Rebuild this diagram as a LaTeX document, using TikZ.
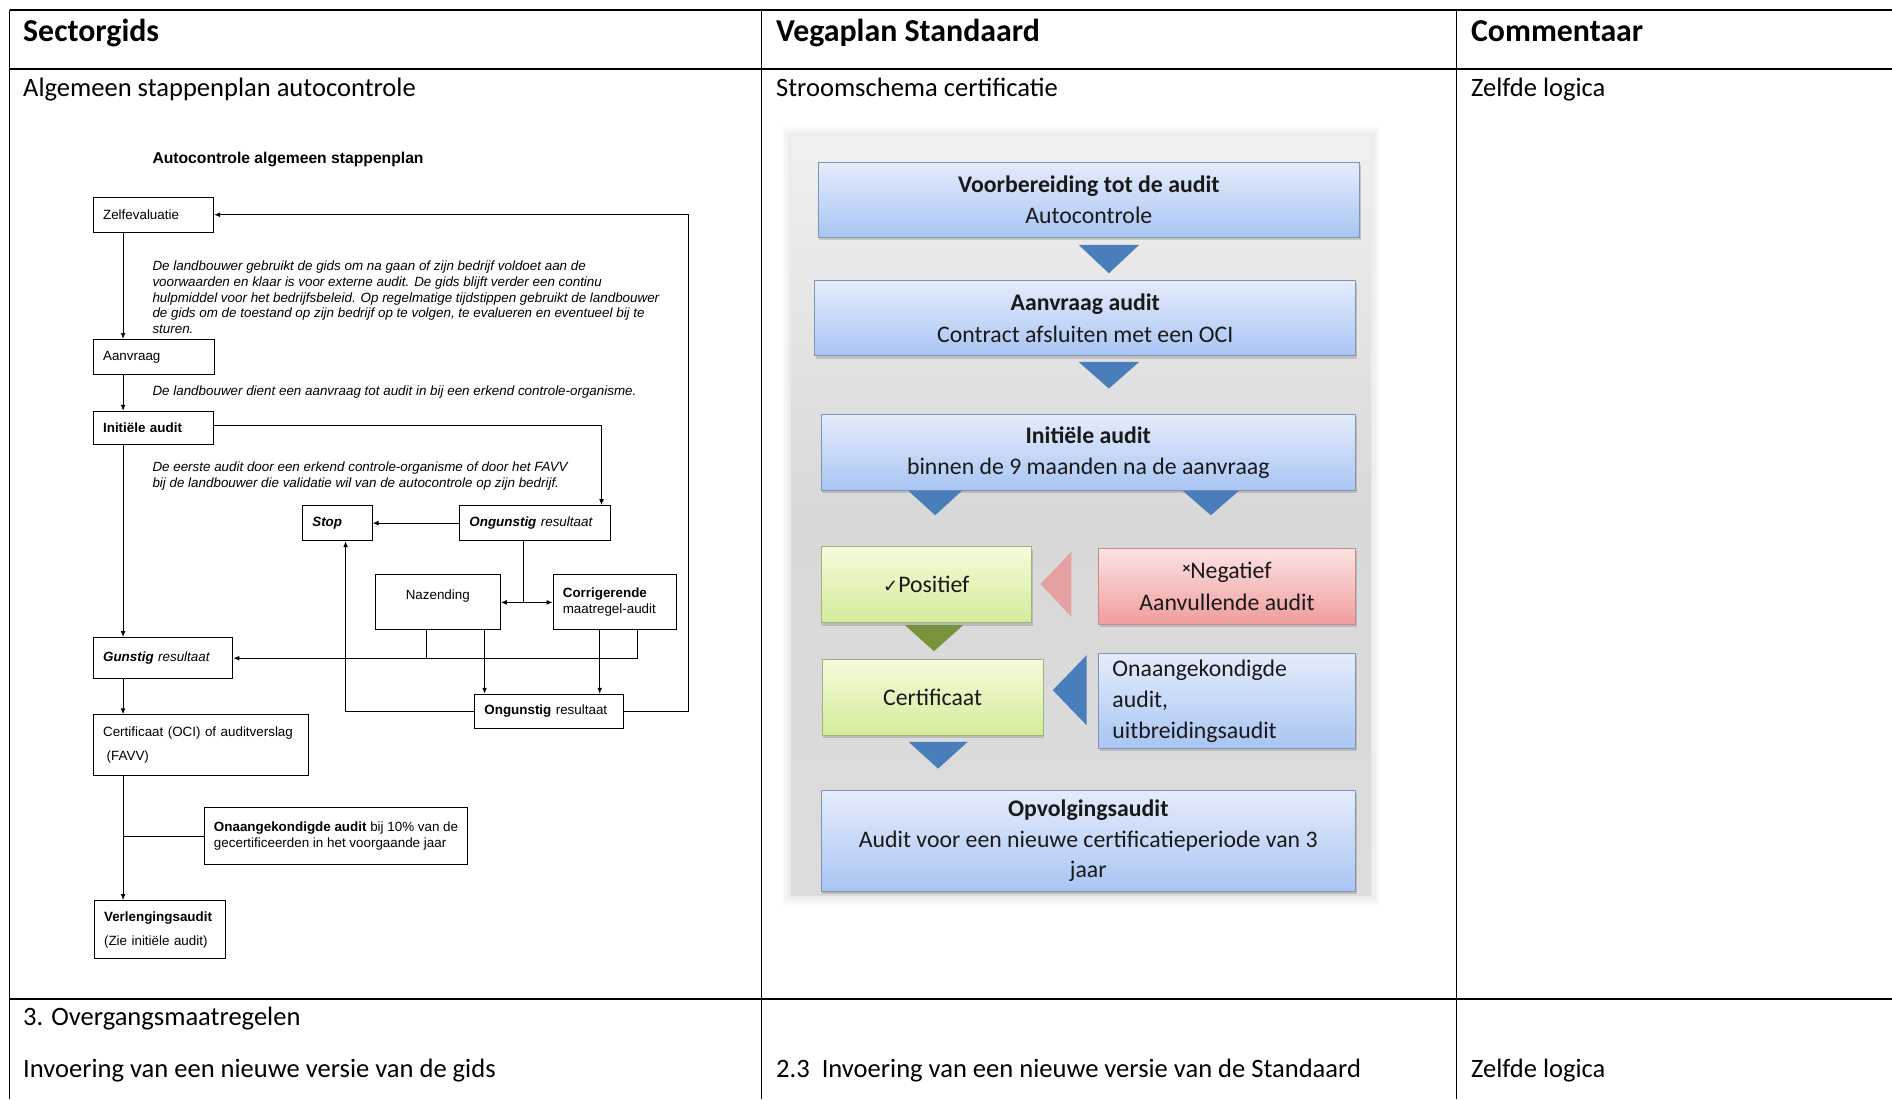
\documentclass[tikz,border=0pt]{standalone}
\usepackage{fontspec}
\setmainfont{Carlito}
\newfontfamily\arialf{Liberation Sans}
\newfontfamily\dejavu{DejaVu Sans}
\usetikzlibrary{arrows.meta,shadows,calc}
\definecolor{bluetri}{HTML}{4A7EBB}
\definecolor{pinktri}{HTML}{E5A1A1}
\definecolor{greentri}{HTML}{77933C}
\definecolor{bboxtop}{HTML}{E4ECFB}
\definecolor{bboxbot}{HTML}{A9C5F3}
\definecolor{bboxdraw}{HTML}{7F93B3}
\definecolor{gboxtop}{HTML}{F5FBDC}
\definecolor{gboxbot}{HTML}{D3EC9A}
\definecolor{gboxdraw}{HTML}{9FB27A}
\definecolor{rboxtop}{HTML}{FCE3E3}
\definecolor{rboxbot}{HTML}{F09C9C}
\definecolor{rboxdraw}{HTML}{C48A8A}
\definecolor{paneltop}{HTML}{F0F0F0}
\definecolor{panelmid}{HTML}{D8D8D8}
\definecolor{panelbot}{HTML}{DCDCDC}
\begin{document}
\begin{tikzpicture}[x=1pt,y=-1pt,
  tline/.style={line width=1.4pt},
  hdr/.style={anchor=base west, inner sep=0pt, font=\fontsize{26.4}{30}\selectfont\bfseries},
  body/.style={anchor=base west, inner sep=0pt, font=\fontsize{22}{26}\selectfont},
  lbox/.style={draw, line width=0.9pt, anchor=north west, inner xsep=8pt, inner ysep=0pt, align=left, font=\arialf\fontsize{11.1}{13}\selectfont},
  ltext/.style={anchor=base west, inner sep=0pt, font=\arialf\itshape\fontsize{11.1}{13}\selectfont},
  larr/.style={line width=0.8pt, -{Latex[length=5pt,width=4pt]}},
  lline/.style={line width=0.8pt},
  rbase/.style={anchor=north west, inner sep=0pt, align=center, line width=0.8pt, text=black!90,
     font=\fontsize{19.7}{26}\selectfont,
     drop shadow={shadow xshift=1pt, shadow yshift=-2.5pt, opacity=0.35}},
  rblue/.style={rbase, draw=bboxdraw, top color=bboxtop, bottom color=bboxbot},
  rgreen/.style={rbase, draw=gboxdraw, top color=gboxtop, bottom color=gboxbot},
  rred/.style={rbase, draw=rboxdraw, top color=rboxtop, bottom color=rboxbot},
]
\useasboundingbox (0,0) rectangle (1568,911);
\fill[white] (0,0) rectangle (1568,911);

% ---------- table ----------
\draw[tline] (8,8) -- (1568,8);
\draw[tline] (8,57) -- (1568,57);
\draw[tline] (8,828) -- (1568,828);
\draw[tline] (8,8) -- (8,911);
\draw[tline] (631,8) -- (631,911);
\draw[tline] (1207,8) -- (1207,911);

\node[hdr] (h1) at (19,34) {Sectorgids};
\node[hdr] (h2) at (643,34) {Vegaplan Standaard};
\node[hdr] (h3) at (1219,34) {Commentaar};

\node[body] (b1) at (19,80) {Algemeen stappenplan autocontrole};
\node[body] (b2) at (643,80) {Stroomschema certificatie};
\node[body] (b3) at (1219,80) {Zelfde logica};

\node[body] (c1) at (19,850) {3. Overgangsmaatregelen};
\node[body] (c2) at (19,893) {Invoering van een nieuwe versie van de gids};
\node[body] (c3) at (643,893) {2.3\hspace{10pt}Invoering van een nieuwe versie van de Standaard};
\node[body] (c4) at (1219,893) {Zelfde logica};

% ---------- left flowchart ----------
\node[anchor=base west, inner sep=0pt, font=\arialf\bfseries\fontsize{13}{15}\selectfont] (ltitle) at (126.2,135.5) {Autocontrole algemeen stappenplan};

\node[lbox, minimum width=99.5pt, minimum height=29pt, text width=83.5pt] (zelf) at (77,163) {Zelfevaluatie};
\node[lbox, minimum width=100pt, minimum height=29pt, text width=84pt] (aanv) at (77,281) {Aanvraag};
\node[lbox, minimum width=99.5pt, minimum height=27.5pt, text width=83.5pt] (init) at (77,340.5) {\bfseries Initiële audit};
\node[lbox, minimum width=57.5pt, minimum height=29pt, text width=41.5pt] (stop) at (250.4,418.6) {\bfseries\itshape Stop};
\node[lbox, minimum width=125pt, minimum height=29pt, text width=109pt] (ong1) at (380.6,418.6) {\textbf{\textit{Ongunstig}} \textit{resultaat}};
\node[lbox, align=center, minimum width=103.5pt, minimum height=45.5pt, text width=87.5pt] (naz) at (310.6,476) {Nazending\\\mbox{}};
\node[lbox, minimum width=102pt, minimum height=45.5pt, text width=86pt] (corr) at (458,476) {\textbf{Corrigerende}\\maatregel-audit};
\node[lbox, minimum width=115.5pt, minimum height=34pt, text width=99.5pt] (gun) at (77,528) {\textbf{\textit{Gunstig}} \textit{resultaat}};
\node[lbox, minimum width=123pt, minimum height=28.5pt, text width=107pt] (ong2) at (393,575) {\textbf{Ongunstig} resultaat};
\node[lbox, font=\arialf\fontsize{11.1}{20}\selectfont, minimum width=178pt, minimum height=50pt, text width=162pt] (cert) at (77,592) {Certificaat (OCI) of auditverslag\\\hspace*{3pt}(FAVV)};
\node[lbox, inner xsep=0pt, font=\arialf\fontsize{11.1}{13.6}\selectfont, minimum width=218.5pt, minimum height=47.5pt] (onaa) at (168.8,668.7) {\textbf{Onaangekondigde audit} bij 10\% van de\\gecertificeerden in het voorgaande jaar};
\node[lbox, font=\arialf\fontsize{11.1}{20}\selectfont, minimum width=109pt, minimum height=48pt, text width=93pt] (verl) at (77.8,746) {\textbf{Verlengingsaudit}\\(Zie initiële audit)};

\node[ltext] (ta1) at (126.2,224.5) {De landbouwer gebruikt de gids om na gaan of zijn bedrijf voldoet aan de};
\node[ltext] (ta2) at (126.2,237.5) {voorwaarden en klaar is voor externe audit. De gids blijft verder een continu};
\node[ltext] (ta3) at (126.2,250.5) {hulpmiddel voor het bedrijfsbeleid. Op regelmatige tijdstippen gebruikt de landbouwer};
\node[ltext] (ta4) at (126.2,263.5) {de gids om de toestand op zijn bedrijf op te volgen, te evalueren en eventueel bij te};
\node[ltext] (ta5) at (126.2,276.5) {sturen.};
\node[ltext] (tb1) at (126.2,327.5) {De landbouwer dient een aanvraag tot audit in bij een erkend controle-organisme.};
\node[ltext] (tc1) at (126.2,390.5) {De eerste audit door een erkend controle-organisme of door het FAVV};
\node[ltext] (tc2) at (126.2,404) {bij de landbouwer die validatie wil van de autocontrole op zijn bedrijf.};

% connectors left
\draw[larr] ([xshift=25pt]zelf.south west) -- ([xshift=25pt]zelf.south west |- aanv.north);
\draw[larr] ([xshift=25pt]aanv.south west) -- ([xshift=25pt]aanv.south west |- init.north);
\draw[larr] ([xshift=25pt]init.south west) -- ([xshift=25pt]init.south west |- gun.north);
\draw[larr] ([xshift=25pt]gun.south west) -- ([xshift=25pt]gun.south west |- cert.north);
\coordinate (cx) at ([xshift=25pt]cert.south west);
\draw[larr] (cx) -- (cx |- verl.north);
\draw[lline] (onaa.west) -- (onaa.west -| cx);
\draw[larr] ([yshift=2pt]init.east) -| ([xshift=-8pt]ong1.north east);
\draw[larr] (ong1.west) -- (stop.east);
\draw[{Latex[length=5pt,width=4pt]}-{Latex[length=5pt,width=4pt]}, line width=0.8pt] (naz.east) -- (corr.west);
\coordinate (split) at ([xshift=53pt]ong1.south west |- naz.east);
\draw[lline] ([xshift=53pt]ong1.south west) -- (split);
\draw[lline] ([xshift=43pt]naz.south west) -- ([xshift=43pt]naz.south west |- gun.east);
\draw[larr] ([xshift=70pt]corr.south west) |- (gun.east);
\draw[larr] ([xshift=91pt]naz.south west) -- ([xshift=91pt]naz.south west |- ong2.north);
\draw[larr] ([xshift=39pt]corr.south west) -- ([xshift=39pt]corr.south west |- ong2.north);
\draw[larr] (ong2.west) -| ([xshift=36pt]stop.south west);
\coordinate (loop) at ([xshift=54pt]ong2.east |- zelf.east);
\draw[larr] (ong2.east) -| (loop) -- (zelf.east);

% ---------- right flowchart ----------
\fill[black!2] (648,105) rectangle (1144,750);
\fill[black!4] (650,107) rectangle (1142,748);
\fill[black!6] (652,109) rectangle (1140,746);
\fill[black!8] (654,111) rectangle (1138,744);
\shade[top color=paneltop, bottom color=panelbot, middle color=panelmid] (656,113) rectangle (1136,742);

\node[rblue, minimum width=449pt, minimum height=62pt] (r1) at (677.5,134) {\textbf{Voorbereiding tot de audit}\\Autocontrole};
\node[rblue, minimum width=448pt, minimum height=62.5pt] (r2) at (675,232) {\textbf{Aanvraag audit}\\Contract afsluiten met een OCI};
\node[rblue, minimum width=443pt, minimum height=63pt] (r3) at (680,343) {\textbf{Initiële audit}\\binnen de 9 maanden na de aanvraag};
\node[rgreen, minimum width=174.5pt, minimum height=63pt] (r4) at (680,452.5) {{\dejavu\fontsize{15}{15}\selectfont ✓}Positief};
\node[rred, minimum width=213pt, minimum height=63pt] (r5) at (910,454) {{\raisebox{4pt}{\fontsize{13}{13}\selectfont\bfseries ×}}Negatief\\Aanvullende audit};
\node[rgreen, minimum width=183pt, minimum height=63pt] (r6) at (681,546) {Certificaat};
\node[rblue, align=left, inner xsep=11.5pt, text width=190pt, minimum height=78pt, font=\fontsize{19.7}{25.6}\selectfont] (r7) at (910,541.5) {Onaangekondigde\\audit,\\uitbreidingsaudit};
\node[rblue, minimum width=443pt, minimum height=83pt, font=\fontsize{19.7}{25.2}\selectfont] (r8) at (680,655) {\textbf{Opvolgingsaudit}\\Audit voor een nieuwe certificatieperiode van 3\\jaar};

\fill[bluetri] (894,203) -- (944,203) -- (919,226.5) -- cycle;
\fill[bluetri] (894,300) -- (944,300) -- (919,322) -- cycle;
\fill[bluetri] (752.5,406.5) -- (797.5,406.5) -- (775,427) -- cycle;
\fill[bluetri] (980,406.5) -- (1027,406.5) -- (1003.5,427) -- cycle;
\fill[pinktri] (862.3,484) -- (887.8,457.3) -- (887.8,511.2) -- cycle;
\fill[greentri] (749.8,518) -- (798.3,518) -- (774,539.7) -- cycle;
\fill[bluetri] (872.5,572) -- (900.5,543) -- (900.5,601) -- cycle;
\fill[bluetri] (753,614.8) -- (802,614.8) -- (777.4,637) -- cycle;
\end{tikzpicture}
\end{document}
